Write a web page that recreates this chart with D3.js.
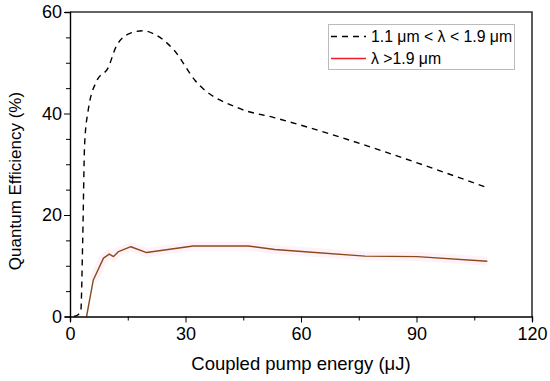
<!DOCTYPE html>
<html>
<head>
<meta charset="utf-8">
<script src="https://cdn.jsdelivr.net/npm/d3@7"></script>
<style>
  body { margin: 0; background: #fff; }
  .Chart { width: 550px; height: 381px; }
  text { font-family: "Liberation Sans", Arial, sans-serif; fill: #000; }
</style>
</head>
<body>
<div class="Chart"></div>
<script>
// 1.1 um < lambda < 1.9 um (dashed)
const shortEnergy = [1, 2, 2.8, 3.3, 3.8, 4.7, 7, 9.9, 12, 15.6, 19, 22, 27, 32.5, 44, 53, 108];
const shortQE = [0, 0.3, 1, 15, 34, 40.5, 46.5, 49, 53.2, 55.8, 56.3, 55.6, 52.5, 46.5, 41, 39.2, 25.5];

// lambda > 1.9 um (solid)
const longEnergy = [4.3, 6.05, 8.7, 10.2, 11.3, 12.6, 15.8, 19.9, 32, 46.3, 53.2, 60.2, 76.6, 90.2, 108.4];
const longQE = [0, 7.2, 11.5, 12.3, 11.8, 12.8, 13.75, 12.6, 13.9, 13.9, 13.2, 12.8, 11.9, 11.8, 10.9];

const xTicks = [0, 30, 60, 90, 120];
const yTicks = [0, 20, 40, 60];
const legendLabels = ["1.1 \u03bcm < \u03bb < 1.9 \u03bcm", "\u03bb >1.9 \u03bcm"];

const w = 550, h = 381;
const padL = 70, padR = 532, padT = 12, padB = 316.5;

const xScale = d3.scaleLinear().domain([0, 120]).range([padL, padR]);
const yScale = d3.scaleLinear().domain([0, 60]).range([padB, padT]);

const svg = d3.select(".Chart").append("svg").attr("width", w).attr("height", h);

// frame top/right
svg.append("path")
  .attr("d", `M${padL},${padT}H${padR}V${padB}`)
  .attr("fill", "none").attr("stroke", "#333").attr("stroke-width", 1.6);

const smooth = d3.line().x(d => xScale(d[0])).y(d => yScale(d[1])).curve(d3.curveMonotoneX);
const straight = d3.line().x(d => xScale(d[0])).y(d => yScale(d[1]));
const shortData = shortEnergy.map((e, i) => [e, shortQE[i]]);
const longData = longEnergy.map((e, i) => [e, longQE[i]]);

// faint pink halo under the solid line
svg.append("path").datum(longData.slice(1))
  .attr("d", straight)
  .attr("fill", "none").attr("stroke", "#fef2f8").attr("stroke-width", 9);

svg.append("path").datum(shortData)
  .attr("d", smooth)
  .attr("fill", "none").attr("stroke", "#000").attr("stroke-width", 1.4)
  .attr("stroke-dasharray", "6,5");

svg.append("path").datum(longData)
  .attr("d", straight)
  .attr("fill", "none").attr("stroke", "#8a4a1c").attr("stroke-width", 1.4)
  .attr("stroke-linejoin", "round");

// axes
const xAxis = d3.axisBottom(xScale).tickValues(d3.range(0, 121, 15)).tickSize(5)
  .tickFormat(d => xTicks.includes(d) ? d : "");
const yAxis = d3.axisLeft(yScale).tickValues(d3.range(0, 61, 5)).tickSize(5)
  .tickFormat(d => yTicks.includes(d) ? d : "");

const gx = svg.append("g").attr("transform", "translate(0," + padB + ")").call(xAxis);
const gy = svg.append("g").attr("transform", "translate(" + padL + ",0)").call(yAxis);

[gx, gy].forEach(g => {
  g.select(".domain").attr("stroke", "#000").attr("stroke-width", 1.4);
  g.selectAll(".tick line").attr("stroke", "#000").attr("stroke-width", 1);
  g.selectAll(".tick text").attr("font-size", 18).attr("font-family", "Liberation Sans, Arial, sans-serif").attr("fill", "#000");
});
gx.selectAll(".tick line").attr("y2", d => xTicks.includes(d) ? 6 : 4);
gx.selectAll(".tick text").attr("dy", "0.8em").attr("y", 9);
gy.selectAll(".tick line").attr("x2", d => yTicks.includes(d) ? -6 : -4);
gy.selectAll(".tick text").attr("x", -8);

svg.append("text")
  .attr("x", 301).attr("y", 370).attr("text-anchor", "middle").attr("font-size", 18.5)
  .text("Coupled pump energy (\u03bcJ)");

svg.append("text")
  .attr("transform", "translate(21,181) rotate(-90)").attr("text-anchor", "middle").attr("font-size", 17)
  .text("Quantum Efficiency (%)");

// legend
const lg = svg.append("g");
lg.append("rect").attr("x", 328.5).attr("y", 24.5).attr("width", 186).attr("height", 45)
  .attr("fill", "#fff").attr("stroke", "#bbb").attr("stroke-width", 1);
lg.append("line").attr("x1", 331).attr("x2", 366).attr("y1", 36.5).attr("y2", 36.5)
  .attr("stroke", "#000").attr("stroke-width", 1.4).attr("stroke-dasharray", "6,5");
lg.append("line").attr("x1", 331).attr("x2", 366).attr("y1", 58.5).attr("y2", 58.5)
  .attr("stroke", "#ee1c2e").attr("stroke-width", 1.4);
lg.selectAll("text.leg").data(legendLabels).enter().append("text")
  .attr("class", "leg")
  .attr("x", 371).attr("y", (d, i) => 42 + i * 22).attr("font-size", 15.8)
  .text(d => d);
</script>
</body>
</html>
